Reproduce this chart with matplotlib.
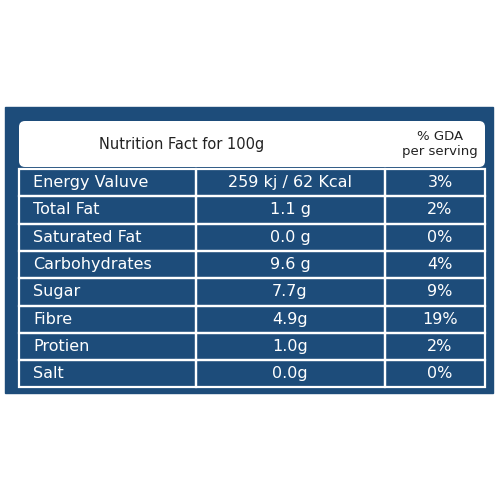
import matplotlib
matplotlib.use("Agg")
import matplotlib.pyplot as plt
from matplotlib.patches import Rectangle, FancyBboxPatch

nutrients = ["Energy Valuve", "Total Fat", "Saturated Fat", "Carbohydrates", "Sugar", "Fibre", "Protien", "Salt"]
amounts = ["259 kj / 62 Kcal", "1.1 g", "0.0 g", "9.6 g", "7.7g", "4.9g", "1.0g", "0.0g"]
gda = ["3%", "2%", "0%", "4%", "9%", "19%", "2%", "0%"]

blue = "#1d4c7a"
fig = plt.figure(figsize=(5, 5), dpi=100)
ax = fig.add_axes([0, 0, 1, 1])
ax.set_xlim(0, 500); ax.set_ylim(500, 0); ax.axis("off")

ax.add_patch(Rectangle((5, 107), 488, 286, color=blue))
ax.add_patch(FancyBboxPatch((19, 121), 466, 46, boxstyle="round,pad=0,rounding_size=6",
                            facecolor="white", edgecolor="none"))
ax.text(182, 144, "Nutrition Fact for 100g", ha="center", va="center", fontsize=10.5, color="#222")
ax.text(440, 144, "% GDA\nper serving", ha="center", va="center", fontsize=9.5, color="#222", linespacing=1.1)

top, h = 169, 27.3
x0, x1, x2, x3 = 19, 196, 385, 485
for i, (n, a, g) in enumerate(zip(nutrients, amounts, gda)):
    y = top + i * h
    for xa, xb in [(x0, x1), (x1, x2), (x2, x3)]:
        ax.add_patch(Rectangle((xa, y), xb - xa, h, facecolor="none", edgecolor="white", lw=1.6))
    yc = y + h / 2
    ax.text(33, yc, n, ha="left", va="center", fontsize=11.5, color="white")
    ax.text(290, yc, a, ha="center", va="center", fontsize=11.5, color="white")
    ax.text(440, yc, g, ha="center", va="center", fontsize=11.5, color="white")

fig.savefig("out.png", dpi=100, facecolor="white")
